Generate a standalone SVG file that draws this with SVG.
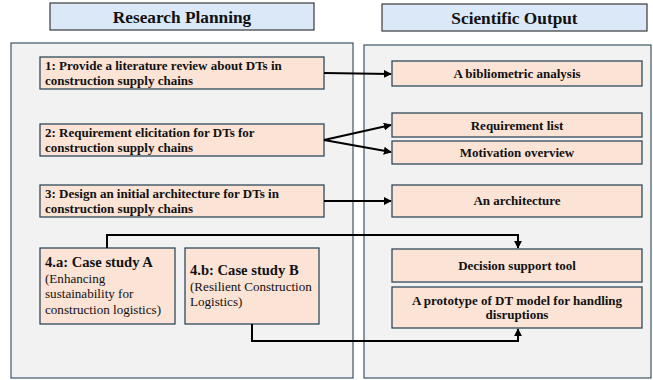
<svg xmlns="http://www.w3.org/2000/svg" width="653" height="380" viewBox="0 0 653 380">
<defs>
<style>
.hdr{fill:#dae8f7;stroke:#3a3a3a;stroke-width:1.2}
.panel{fill:#f2f2f2;stroke:#3e5566;stroke-width:1.2}
.box{fill:#fbe3d6;stroke:#2e4a5a;stroke-width:1.3}
.h{font-size:17.3px;font-weight:bold;text-anchor:middle}
.b{font-size:13px;font-weight:bold}
.c{font-size:13px;font-weight:bold;text-anchor:middle}
.t{font-size:14.6px;font-weight:bold}
.r{font-size:13.1px}
.ln{fill:none;stroke:#000;stroke-width:2}
</style>
<marker id="ar" viewBox="0 0 10 10" refX="9" refY="5" markerWidth="4" markerHeight="4" orient="auto">
<path d="M0,0 L10,5 L0,10 z" fill="#000"/>
</marker>
</defs>
<g font-family="Liberation Serif, DejaVu Serif, serif" fill="#111">
<g id="hdr-research"><rect class="hdr" x="50" y="3" width="264" height="27"/><text class="h" x="182" y="23">Research Planning</text></g>
<g id="hdr-output"><rect class="hdr" x="382" y="4" width="265" height="27"/><text class="h" x="514.5" y="24">Scientific Output</text></g>
<g id="panel-left"><rect class="panel" x="11" y="43" width="342" height="335"/></g>
<g id="panel-right"><rect class="panel" x="364" y="45" width="287" height="333"/></g>
<g id="n1"><rect class="box" x="40" y="57" width="284" height="32"/><text class="b" x="45" y="70">1: Provide a literature review about DTs in</text><text class="b" x="45" y="85">construction supply chains</text></g>
<g id="n2"><rect class="box" x="40" y="124" width="284" height="32"/><text class="b" x="45" y="137">2: Requirement elicitation for DTs for</text><text class="b" x="45" y="152">construction supply chains</text></g>
<g id="n3"><rect class="box" x="40" y="185" width="284" height="32"/><text class="b" x="45" y="198">3: Design an initial architecture for DTs in</text><text class="b" x="45" y="213">construction supply chains</text></g>
<g id="n4a"><rect class="box" x="40" y="248" width="135" height="76"/><text class="t" x="45" y="267">4.a: Case study A</text><text class="r" x="45" y="283">(Enhancing</text><text class="r" x="45" y="298">sustainability for</text><text class="r" x="45" y="314">construction logistics)</text></g>
<g id="n4b"><rect class="box" x="185" y="248" width="134" height="76"/><text class="t" x="190" y="275">4.b: Case study B</text><text class="r" x="190" y="291">(Resilient Construction</text><text class="r" x="190" y="306">Logistics)</text></g>
<g id="o1"><rect class="box" x="392" y="61" width="250" height="25"/><text class="c" x="517" y="78">A bibliometric analysis</text></g>
<g id="o2"><rect class="box" x="392" y="113" width="250" height="24"/><text class="c" x="517" y="130">Requirement list</text></g>
<g id="o3"><rect class="box" x="392" y="141" width="250" height="23"/><text class="c" x="517" y="157">Motivation overview</text></g>
<g id="o4"><rect class="box" x="392" y="185" width="250" height="32"/><text class="c" x="517" y="205">An architecture</text></g>
<g id="o5"><rect class="box" x="392" y="249" width="250" height="33"/><text class="c" x="517" y="270">Decision support tool</text></g>
<g id="o6"><rect class="box" x="392" y="287" width="250" height="41"/><text class="c" x="517" y="305">A prototype of DT model for handling</text><text class="c" x="517" y="319">disruptions</text></g>
</g>
<g id="connectors">
<path class="ln" d="M324,73 L391,74" marker-end="url(#ar)"/>
<path class="ln" d="M324,140 L391,125" marker-end="url(#ar)"/>
<path class="ln" d="M324,140 L391,152" marker-end="url(#ar)"/>
<path class="ln" d="M324,201 L391,201" marker-end="url(#ar)"/>
<path class="ln" d="M107,248 L107,235 L518,235 L518,248" marker-end="url(#ar)"/>
<path class="ln" d="M252,324 L252,341 L518,341 L518,329" marker-end="url(#ar)"/>
</g>
</svg>
